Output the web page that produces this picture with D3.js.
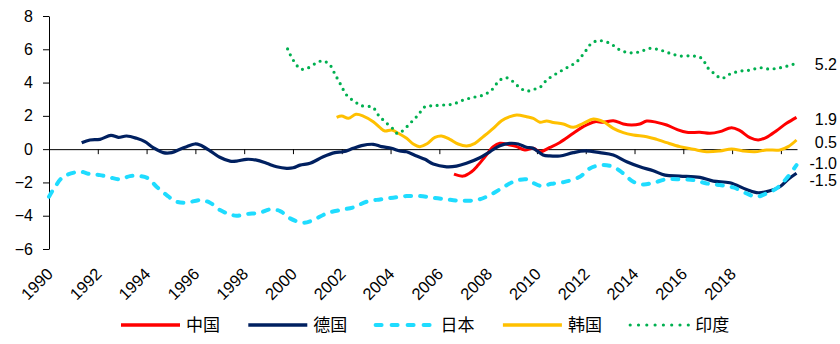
<!DOCTYPE html>
<html><head><meta charset="utf-8">
<script src="https://cdn.jsdelivr.net/npm/d3@7"></script>
<style>
body{margin:0;background:#fff;}
text{font-family:"Liberation Sans",Arial,sans-serif;fill:#000;}
.cjk{font-family:"Noto Sans CJK SC","Liberation Sans",sans-serif;}
</style></head>
<body><svg id="c" width="840" height="344"></svg>
<script>
const seriesNames = ["中国","德国","日本","韩国","印度"];
const seriesColors = ["#ff0000","#002060","#1fdcff","#ffc000","#00b050"];
const endLabels = ["1.9","-1.5","-1.0","0.5","5.2"];
const yTicks = [-6,-4,-2,0,2,4,6,8];
const xTickYears = [1990,1992,1994,1996,1998,2000,2002,2004,2006,2008,2010,2012,2014,2016,2018,2020];
const xTickLabels = ["1990","1992","1994","1996","1998","2000","2002","2004","2006","2008","2010","2012","2014","2016","2018"];

const chinaYears = [2006.6,2006.98,2007.32,2007.59,2007.87,2008.21,2008.48,2008.89,2009.17,2009.51,2009.85,2010.12,2010.53,2010.94,2011.49,2011.9,2012.38,2012.72,2013.13,2013.54,2013.88,2014.22,2014.5,2014.91,2015.32,2015.73,2016.14,2016.68,2017.09,2017.5,2017.98,2018.32,2018.73,2019.07,2019.41,2019.82,2020.23,2020.64];
const chinaValues = [-1.5,-1.62,-1.36,-0.96,-0.46,0.15,0.35,0.25,0.15,-0.05,0.05,-0.16,0.1,0.4,0.95,1.35,1.65,1.61,1.71,1.51,1.45,1.51,1.69,1.61,1.45,1.19,1.01,1.01,0.95,1.05,1.29,1.11,0.69,0.55,0.71,1.11,1.55,1.91];

const germanyYears = [1991.34,1991.68,1992.09,1992.54,1992.84,1993.18,1993.59,1993.93,1994.27,1994.68,1995.03,1995.37,1995.64,1995.98,1996.19,1996.6,1997.0,1997.42,1997.69,1998.1,1998.51,1998.92,1999.33,1999.74,2000.01,2000.29,2000.7,2001.24,2001.72,2002.06,2002.47,2002.81,2003.29,2003.63,2004.04,2004.38,2004.66,2005.07,2005.41,2005.75,2006.3,2006.7,2007.11,2007.66,2008.07,2008.48,2008.89,2009.23,2009.57,2009.84,2010.25,2010.53,2010.94,2011.49,2011.97,2012.58,2013.13,2013.68,2014.22,2014.77,2015.25,2015.86,2016.68,2017.23,2017.91,2018.59,2019.07,2019.55,2019.96,2020.3,2020.64];
const germanyValues = [0.38,0.55,0.59,0.83,0.71,0.79,0.65,0.45,0.09,-0.21,-0.21,0.0,0.15,0.31,0.25,-0.1,-0.49,-0.72,-0.72,-0.61,-0.66,-0.85,-1.06,-1.15,-1.12,-0.96,-0.85,-0.46,-0.21,-0.16,0.05,0.21,0.29,0.15,0.05,-0.11,-0.16,-0.41,-0.61,-0.9,-1.06,-1.02,-0.85,-0.52,-0.16,0.21,0.35,0.31,0.11,0.05,-0.35,-0.41,-0.41,-0.21,-0.11,-0.21,-0.35,-0.76,-1.06,-1.3,-1.56,-1.62,-1.7,-1.92,-2.02,-2.42,-2.62,-2.5,-2.26,-1.81,-1.45];

const japanYears = [1990.0,1990.25,1990.59,1991.27,1991.68,1992.09,1992.5,1992.91,1993.32,1993.73,1994.07,1994.41,1994.82,1995.23,1995.64,1996.19,1996.6,1997.01,1997.42,1997.69,1998.1,1998.64,1999.06,1999.47,1999.88,2000.42,2000.83,2001.38,2001.93,2002.47,2003.02,2003.57,2004.11,2004.66,2005.2,2005.75,2006.3,2006.84,2007.52,2007.93,2008.48,2009.03,2009.57,2009.84,2010.19,2010.6,2011.1,2011.76,2012.17,2012.65,2013.13,2013.54,2013.95,2014.36,2014.77,2015.32,2015.86,2016.41,2016.96,2017.5,2018.05,2018.59,2019.0,2019.41,2019.82,2020.23,2020.64];
const japanValues = [-2.86,-2.26,-1.66,-1.36,-1.5,-1.56,-1.7,-1.81,-1.62,-1.62,-1.76,-2.26,-2.76,-3.16,-3.22,-3.06,-3.22,-3.66,-3.92,-4.0,-3.9,-3.82,-3.62,-3.72,-4.16,-4.42,-4.26,-3.86,-3.66,-3.5,-3.16,-3.02,-2.92,-2.82,-2.82,-2.92,-3.02,-3.1,-3.06,-2.86,-2.42,-1.96,-1.81,-2.02,-2.22,-2.08,-1.98,-1.66,-1.16,-0.96,-1.06,-1.46,-1.96,-2.12,-2.02,-1.81,-1.81,-1.86,-2.06,-2.16,-2.3,-2.66,-2.86,-2.66,-2.36,-1.76,-0.96];

const koreaYears = [2001.79,2002.0,2002.27,2002.58,2002.88,2003.29,2003.57,2003.77,2004.05,2004.32,2004.66,2004.93,2005.2,2005.48,2005.82,2006.09,2006.43,2006.77,2007.12,2007.46,2007.8,2008.21,2008.55,2008.89,2009.17,2009.58,2009.85,2010.12,2010.4,2010.67,2011.08,2011.49,2011.9,2012.31,2012.72,2013.13,2013.54,2013.95,2014.5,2014.91,2015.32,2015.86,2016.41,2016.95,2017.5,2017.98,2018.45,2018.93,2019.41,2019.96,2020.3,2020.64];
const koreaValues = [1.91,1.99,1.85,2.09,1.99,1.65,1.29,1.09,1.15,0.95,0.65,0.31,0.15,0.31,0.71,0.79,0.59,0.31,0.19,0.35,0.75,1.25,1.71,1.95,2.05,1.95,1.85,1.62,1.69,1.6,1.51,1.31,1.55,1.81,1.65,1.25,0.99,0.85,0.75,0.59,0.39,0.15,-0.01,-0.16,-0.11,0.01,-0.11,-0.16,-0.05,-0.05,0.15,0.55];

const indiaYears = [1999.78,2000.01,2000.33,2000.63,2001.04,2001.27,2001.52,2001.72,2001.93,2002.2,2002.54,2002.82,2003.27,2003.5,2003.77,2004.11,2004.27,2004.45,2004.8,2005.13,2005.41,2005.75,2006.16,2006.57,2006.98,2007.39,2007.8,2008.14,2008.48,2008.76,2009.03,2009.3,2009.58,2009.85,2010.12,2010.4,2010.81,2011.22,2011.63,2011.97,2012.24,2012.55,2012.99,2013.4,2013.81,2014.22,2014.63,2015.04,2015.45,2015.86,2016.41,2016.75,2017.02,2017.3,2017.57,2017.91,2018.32,2018.73,2019.14,2019.55,2019.96,2020.3,2020.61];
const indiaValues = [6.02,5.35,4.81,4.89,5.25,5.29,5.05,4.51,3.95,3.25,2.85,2.61,2.51,2.05,1.65,1.21,0.95,1.05,1.55,2.05,2.55,2.61,2.65,2.71,2.95,3.11,3.25,3.55,4.15,4.29,4.05,3.69,3.49,3.59,3.71,4.15,4.55,4.89,5.25,5.85,6.36,6.52,6.36,5.96,5.79,5.85,6.06,5.96,5.76,5.6,5.6,5.46,4.86,4.51,4.25,4.51,4.69,4.75,4.89,4.81,4.89,5.01,5.15];

const allYears = [chinaYears,germanyYears,japanYears,koreaYears,indiaYears];
const allValues = [chinaValues,germanyValues,japanValues,koreaValues,indiaValues];

const svg = d3.select("#c");
const x = d3.scaleLinear().domain([1990, 2020.66]).range([49, 797]);
const y = d3.scaleLinear().domain([-6, 8]).range([249, 16]);

// Y axis
const yAxis = svg.append("g").attr("transform","translate(49,0)")
  .call(d3.axisLeft(y).tickValues(yTicks).tickSize(6).tickSizeOuter(0).tickPadding(10).tickFormat(d3.format("d")));
yAxis.select(".domain").attr("stroke","#000");
yAxis.selectAll("line").attr("stroke","#000");
yAxis.selectAll("text").attr("font-size",16).attr("font-family","Liberation Sans, Arial, sans-serif").attr("fill","#000");

// X axis at y=0
const xAxis = svg.append("g").attr("transform",`translate(0,${y(0)})`)
  .call(d3.axisBottom(x).tickValues(xTickYears).tickSize(5).tickSizeOuter(0).tickFormat(""));
xAxis.select(".domain").attr("stroke","#000");
xAxis.selectAll("line").attr("stroke","#000");

// X tick labels at bottom, rotated
svg.append("g").selectAll("text").data(xTickLabels).join("text")
  .attr("transform", d => `translate(${x(+d)+5},275) rotate(-45)`)
  .attr("text-anchor","end")
  .attr("font-size",16.5)
  .text(d => d);

// Lines
const line = d3.line().curve(d3.curveCatmullRom.alpha(0.5));
const styles = [
  {w:3, dash:null, cap:"butt"},
  {w:3.2, dash:null, cap:"butt"},
  {w:4, dash:"6 9", cap:"round"},
  {w:3, dash:null, cap:"butt"},
  {w:3.2, dash:"0 6.5", cap:"round"}
];
seriesNames.forEach((name,i) => {
  const pts = allYears[i].map((yr,j) => [x(yr), y(allValues[i][j])]);
  svg.append("path").attr("d", line(pts))
    .attr("fill","none").attr("stroke",seriesColors[i])
    .attr("stroke-width",styles[i].w)
    .attr("stroke-linecap",styles[i].cap)
    .attr("stroke-linejoin","round")
    .attr("stroke-dasharray",styles[i].dash);
});

// End labels with simple collision avoidance
const lab = endLabels.map((t,i) => ({t, yy: y(+t)+2}));
const sorted = lab.slice().sort((a,b)=>a.yy-b.yy);
const minGap = 17;
for (let it=0; it<50; it++) {
  for (let k=1;k<sorted.length;k++){
    const gap = sorted[k].yy - sorted[k-1].yy;
    if (gap < minGap) { const d=(minGap-gap)/2; sorted[k].yy+=d; sorted[k-1].yy-=d; }
  }
}
svg.append("g").selectAll("text").data(lab).join("text")
  .attr("x",837).attr("y",d=>d.yy).attr("dy","0.35em")
  .attr("text-anchor","end").attr("font-size",16).text(d=>d.t);

// Legend
const lg = svg.append("g");
const legendDash = [null,null,"6 10","", "0 8.3"];
seriesNames.forEach((name,i) => {
  const x0 = 121 + i*127.3;
  lg.append("line").attr("x1",x0).attr("x2",x0+59).attr("y1",325).attr("y2",325)
    .attr("stroke",seriesColors[i]).attr("stroke-width", i===4?3.2:(i===2?4:3.5))
    .attr("stroke-linecap", (i===2||i===4)?"round":"butt")
    .attr("stroke-dasharray", legendDash[i] || null);
  lg.append("text").attr("class","cjk").attr("x",x0+65).attr("y",325).attr("dy","0.36em")
    .attr("font-size",17).text(name);
});
</script></body></html>
